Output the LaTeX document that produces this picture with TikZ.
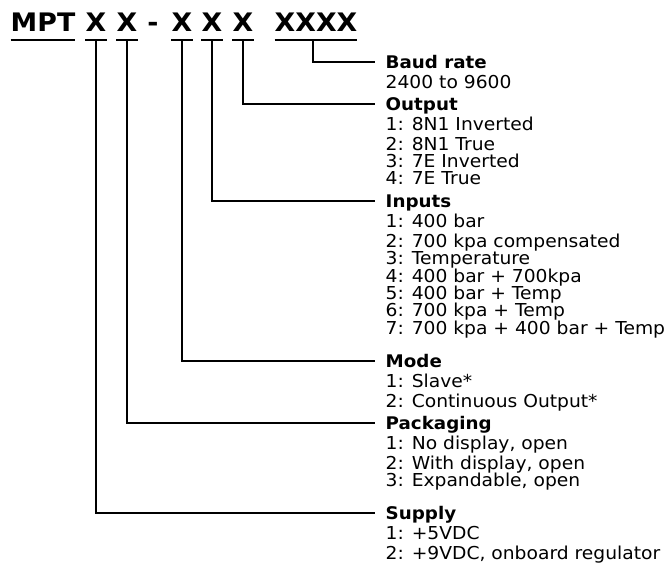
\documentclass[tikz,border=0pt]{standalone}
\usepackage{fontspec}
\newfontfamily\partfont{DejaVu Sans}[FakeStretch=1.05]
\usepackage{xcolor}
\definecolor{cInk}{HTML}{000000}
\usepackage{tikz}
\usetikzlibrary{positioning}
\tikzset{
  code-part/.style={font=\partfont\bfseries\fontsize{25.5}{30}\selectfont,
    anchor=base,inner xsep=0pt,inner ysep=9pt,text height=18.6pt,text depth=0pt},
  code-rule/.style={draw=cInk,line width=2.2pt},
  field-head/.style={font=\partfont\bfseries\fontsize{17.4}{19}\selectfont,
    anchor=west,inner xsep=10.5pt,inner ysep=0pt,text height=12.6pt,text depth=0pt},
  field-list/.style={font=\partfont\fontsize{17.8}{17.4}\selectfont,
    align=left,inner xsep=10.5pt,inner ysep=0pt},
  link/.style={draw=cInk,line width=2.2pt},
}

\begin{document}
\begin{tikzpicture}[x=1pt,y=-1pt]
  \useasboundingbox (0,0) rectangle (669,563);
  % part number
  \node[code-part] (mpt)      at (43,31)  {MPT};
  \node[code-part] (supply-x) at (96,31)  {X};
  \node[code-part] (pack-x)   at (127,31) {X};
  \node[code-part] (dash)     at (153,31) {-};
  \node[code-part] (mode-x)   at (182,31) {X};
  \node[code-part] (input-x)  at (212,31) {X};
  \node[code-part] (output-x) at (243,31) {X};
  \node[code-part] (baud-x)   at (316,31) {XXXX};
  \foreach \n in {mpt,supply-x,pack-x,mode-x,input-x,output-x,baud-x}
    \draw[code-rule] (\n.south west) -- (\n.south east);

  % fields
  \node[field-head] (baud) at (375,62) {Baud rate};
    \node[field-list,below right=6.4pt and 0pt of baud.south west] (baud-list)
      {\strut 2400 to 9600};
  \node[field-head] (output) at (375,104) {Output};
    \node[field-list,below right=6.4pt and 0pt of output.south west] (output-list)
      {\strut 1: 8N1 Inverted\\ 2: 8N1 True\\ 3: 7E Inverted\\ 4: 7E True};
  \node[field-head] (input) at (375,201) {Inputs};
    \node[field-list,below right=6.4pt and 0pt of input.south west] (input-list)
      {\strut 1: 400 bar\\ 2: 700 kpa compensated\\ 3: Temperature\\
       4: 400 bar + 700kpa\\ 5: 400 bar + Temp\\ 6: 700 kpa + Temp\\
       7: 700 kpa + 400 bar + Temp};
  \node[field-head] (mode) at (375,361) {Mode};
    \node[field-list,below right=6.4pt and 0pt of mode.south west] (mode-list)
      {\strut 1: Slave*\\ 2: Continuous Output*};
  \node[field-head] (pack) at (375,423) {Packaging};
    \node[field-list,below right=6.4pt and 0pt of pack.south west] (pack-list)
      {\strut 1: No display, open\\ 2: With display, open\\ 3: Expandable, open};
  \node[field-head] (supply) at (375,513) {Supply};
    \node[field-list,below right=6.4pt and 0pt of supply.south west] (supply-list)
      {\strut 1: +5VDC\\ 2: +9VDC, onboard regulator};

  % connectors
  \draw[link] ([xshift=-3pt]baud-x.south) |- (baud.west);
  \draw[link] (output-x.south) |- (output.west);
  \draw[link] (input-x.south)  |- (input.west);
  \draw[link] (mode-x.south)   |- (mode.west);
  \draw[link] (pack-x.south)   |- (pack.west);
  \draw[link] (supply-x.south) |- (supply.west);
\end{tikzpicture}
\end{document}
